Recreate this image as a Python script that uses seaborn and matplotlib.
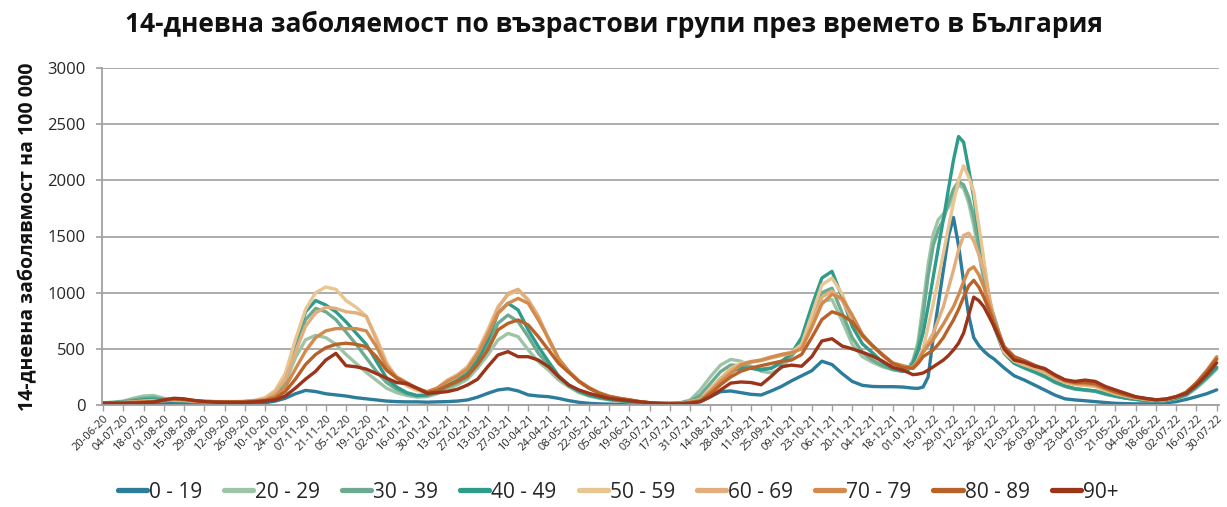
import pandas as pd
import matplotlib
matplotlib.use("Agg")
import matplotlib.pyplot as plt
import seaborn as sns

# --- data ---
# date grid: weekly, twice a week during the Omicron peak, weekly again after
DATES = (
    pd.date_range("2020-06-20", "2021-12-25", freq="7D")
    .append(pd.date_range("2021-12-28 12:00", "2022-02-26", freq="84h"))
    .append(pd.date_range("2022-03-05", "2022-07-30", freq="7D"))
)

GROUPS = ["0 - 19", "20 - 29", "30 - 39", "40 - 49", "50 - 59",
          "60 - 69", "70 - 79", "80 - 89", "90+"]

age_0_19 = [
    10, 10, 10, 10, 10, 10, 12, 18, 15, 10, 8, 8, 8, 8, 10, 12, 20,
    35, 60, 100, 130, 120, 100, 90, 80, 65, 55, 45, 35, 30, 28, 28,
    25, 28, 30, 35, 45, 70, 104, 134, 145, 125, 90, 80, 74, 59, 39, 24, 15, 10, 8, 6, 5, 5, 5, 5, 5, 6,
    20, 30, 74, 119, 125, 110, 95, 89, 125, 165, 215, 260, 305, 390, 360, 280, 210, 175, 165, 163, 163, 160,
    155, 150, 148, 160, 250, 600, 900, 1200, 1500, 1670, 1420, 1100, 800, 600, 530, 480, 440, 410,
    330, 260, 222, 178, 134, 89, 55, 45, 38, 30, 22, 15, 12, 10, 10, 15, 20, 30, 50, 74, 100, 135,
]
age_20_29 = [
    20, 25, 35, 60, 80, 85, 60, 45, 40, 35, 30, 28, 28, 28, 30, 35, 45,
    80, 200, 420, 580, 620, 600, 540, 450, 370, 290, 220, 150, 110, 85, 70,
    75, 100, 140, 180, 230, 330, 445, 578, 638, 608, 490, 386, 311, 222, 163, 110, 80, 60, 45, 35, 28, 22, 18, 15, 15, 20,
    45, 134, 252, 356, 406, 390, 345, 300, 285, 326, 430, 560, 780, 920, 940, 750, 540, 430, 380, 340, 315, 300,
    320, 400, 560, 900, 1250, 1520, 1650, 1700, 1760, 1860, 1960, 1930, 1800, 1600, 1350, 1100, 900, 780,
    500, 380, 330, 290, 250, 200, 165, 140, 130, 120, 95, 75, 60, 50, 40, 35, 40, 55, 85, 150, 230, 320,
]
age_30_39 = [
    20, 22, 30, 45, 60, 65, 50, 40, 35, 30, 28, 28, 28, 28, 30, 35, 42,
    80, 220, 500, 760, 860, 830, 760, 650, 540, 420, 300, 200, 140, 100, 80,
    85, 110, 160, 200, 250, 370, 519, 727, 801, 742, 608, 460, 356, 252, 170, 120, 85, 65, 50, 38, 30, 24, 18, 15, 15, 18,
    35, 89, 193, 297, 356, 350, 335, 320, 330, 370, 440, 540, 780, 1000, 1040, 820, 600, 470, 400, 350, 315, 300,
    320, 380, 520, 800, 1150, 1420, 1560, 1650, 1800, 1920, 1990, 1960, 1850, 1680, 1420, 1150, 940, 790,
    500, 380, 335, 300, 260, 210, 170, 145, 135, 125, 100, 80, 62, 50, 40, 35, 40, 58, 90, 160, 240, 330,
]
age_40_49 = [
    18, 20, 25, 35, 45, 50, 45, 40, 35, 30, 28, 28, 28, 28, 30, 35, 45,
    90, 250, 560, 830, 930, 890, 830, 740, 640, 540, 390, 240, 160, 110, 85,
    90, 120, 175, 220, 282, 400, 578, 816, 905, 846, 668, 519, 386, 260, 178, 125, 89, 68, 52, 40, 30, 24, 18, 15, 14, 15,
    30, 55, 134, 237, 297, 326, 326, 312, 326, 386, 460, 600, 880, 1130, 1190, 960, 700, 545, 465, 380, 325, 300,
    310, 370, 480, 640, 880, 1140, 1400, 1650, 1920, 2180, 2390, 2340, 2100, 1850, 1550, 1260, 950, 700,
    460, 370, 330, 295, 255, 205, 170, 145, 135, 125, 100, 80, 62, 50, 40, 35, 40, 60, 95, 165, 245, 335,
]
age_50_59 = [
    18, 20, 22, 28, 35, 40, 40, 42, 40, 35, 30, 28, 28, 28, 32, 42, 65,
    130, 280, 580, 850, 1000, 1050, 1030, 930, 870, 790, 600, 380, 240, 170, 130,
    110, 150, 222, 270, 341, 480, 668, 875, 979, 1020, 935, 786, 579, 400, 297, 208, 148, 104, 74, 59, 45, 30, 20, 15, 12, 12,
    30, 50, 148, 237, 326, 371, 386, 400, 430, 450, 470, 540, 800, 1070, 1130, 990, 760, 610, 525, 440, 370, 340,
    330, 330, 400, 500, 700, 900, 1120, 1350, 1580, 1800, 2000, 2130, 2030, 1900, 1600, 1290, 980, 720,
    470, 390, 355, 325, 290, 240, 200, 180, 175, 165, 130, 100, 80, 62, 50, 42, 48, 70, 110, 190, 290, 410,
]
age_60_69 = [
    20, 20, 22, 25, 30, 35, 40, 45, 42, 35, 32, 30, 30, 30, 32, 40, 55,
    110, 230, 470, 700, 820, 870, 860, 830, 820, 790, 580, 360, 240, 180, 140,
    115, 150, 215, 265, 335, 470, 650, 860, 994, 1030, 935, 790, 590, 410, 300, 210, 150, 105, 75, 59, 45, 30, 20, 15, 12, 12,
    28, 45, 130, 225, 310, 360, 380, 395, 420, 440, 460, 510, 720, 960, 1015, 930, 760, 610, 525, 440, 370, 345,
    335, 340, 400, 490, 560, 640, 760, 875, 1040, 1200, 1380, 1510, 1530, 1460, 1340, 1200, 980, 760,
    490, 400, 360, 330, 295, 245, 205, 185, 180, 170, 135, 105, 82, 64, 52, 44, 50, 72, 112, 195, 300, 420,
]
age_70_79 = [
    20, 20, 20, 22, 25, 30, 40, 50, 45, 38, 32, 30, 30, 30, 30, 35, 45,
    80, 160, 320, 480, 600, 660, 680, 680, 680, 660, 520, 340, 250, 200, 150,
    119, 150, 208, 255, 320, 450, 623, 816, 905, 949, 905, 757, 593, 415, 300, 215, 155, 110, 78, 60, 45, 30, 20, 15, 12, 12,
    25, 40, 119, 208, 282, 356, 386, 400, 425, 450, 465, 500, 690, 900, 985, 950, 800, 630, 525, 450, 375, 350,
    340, 340, 390, 470, 530, 580, 650, 720, 800, 875, 980, 1100, 1200, 1230, 1160, 1050, 900, 760,
    520, 430, 390, 350, 315, 260, 215, 195, 190, 180, 145, 112, 88, 68, 55, 46, 52, 75, 115, 200, 305, 430,
]
age_80_89 = [
    20, 20, 20, 22, 25, 30, 45, 55, 50, 40, 32, 30, 28, 28, 28, 32, 40,
    60, 120, 230, 360, 450, 510, 540, 550, 540, 520, 430, 310, 240, 190, 150,
    110, 130, 170, 210, 260, 360, 490, 668, 727, 757, 712, 608, 490, 371, 290, 210, 150, 105, 75, 58, 44, 30, 20, 14, 12, 12,
    22, 35, 100, 180, 250, 300, 330, 350, 370, 390, 400, 450, 600, 760, 830, 800, 740, 620, 530, 445, 370, 335,
    330, 326, 370, 430, 460, 490, 540, 600, 680, 757, 850, 960, 1060, 1110, 1050, 960, 850, 730,
    520, 430, 395, 355, 320, 265, 220, 200, 200, 190, 150, 118, 92, 70, 57, 47, 52, 74, 112, 195, 295, 410,
]
age_90_plus = [
    15, 15, 15, 18, 20, 25, 45, 60, 55, 40, 30, 25, 22, 22, 22, 28, 35,
    45, 80, 150, 230, 300, 400, 460, 350, 340, 320, 280, 240, 200, 190, 150,
    104, 110, 119, 140, 178, 230, 341, 445, 475, 430, 430, 400, 341, 252, 178, 134, 104, 80, 59, 48, 38, 28, 20, 14, 10, 10,
    15, 30, 74, 134, 195, 205, 200, 180, 255, 340, 355, 345, 430, 570, 590, 525, 500, 470, 435, 390, 335, 310,
    290, 270, 275, 285, 310, 340, 370, 400, 440, 490, 550, 640, 800, 960, 930, 875, 790, 700,
    500, 400, 380, 345, 325, 270, 225, 210, 222, 210, 165, 134, 104, 74, 59, 45, 53, 74, 104, 178, 267, 375,
]

COLORS = ["#2c7c9b", "#9dc4a6", "#6dab90", "#2e9b8b", "#e9c592",
          "#e2ae7e", "#d38a4d", "#b8622a", "#9b3419"]

TITLE = "14-дневна заболяемост по възрастови групи през времето в България"
YLABEL = "14-дневна заболявмост на 100 000"


def build_frame():
    series = [age_0_19, age_20_29, age_30_39, age_40_49, age_50_59,
              age_60_69, age_70_79, age_80_89, age_90_plus]
    wide = pd.DataFrame(dict(zip(GROUPS, series)), index=DATES)
    wide.index.name = "date"
    return wide.reset_index().melt(id_vars="date", var_name="group", value_name="value")


def plot_incidence(df):
    sns.set_style("white")
    plt.rcParams["font.family"] = ["Open Sans", "DejaVu Sans"]

    fig = plt.figure(figsize=(12.27, 5.07), dpi=100)
    ax = fig.add_axes([102 / 1227, 1 - 405 / 507, 1117 / 1227, 337 / 507])

    sns.lineplot(data=df, x="date", y="value", hue="group", hue_order=GROUPS,
                 palette=dict(zip(GROUPS, COLORS)), linewidth=2.4, ax=ax)

    ax.set_ylim(0, 3000)
    ax.set_yticks(range(0, 3001, 500))
    ax.set_xlim(pd.Timestamp("2020-06-20") - pd.Timedelta(hours=17),
                pd.Timestamp("2022-07-30") + pd.Timedelta(hours=38))
    ticks = pd.date_range("2020-06-20", "2022-07-30", freq="14D")
    ax.set_xticks(ticks)
    ax.set_xticklabels([t.strftime("%d-%m-%y") for t in ticks], rotation=45,
                       ha="right", rotation_mode="anchor", fontsize=8)
    ax.tick_params(axis="y", labelsize=12, colors="#a0a0a0", labelcolor="#262626",
                   length=4, width=1.2, direction="out", left=True, pad=8)
    ax.tick_params(axis="x", colors="#a0a0a0", labelcolor="#262626",
                   length=4, width=1.0, direction="out", bottom=True, pad=2)

    ax.yaxis.grid(True, color="#a6a6a6", linewidth=1.3)
    ax.set_axisbelow(True)
    for side in ["top", "right"]:
        ax.spines[side].set_visible(False)
    for side in ["left", "bottom"]:
        ax.spines[side].set_color("#a0a0a0")
        ax.spines[side].set_linewidth(1.3)

    ax.set_xlabel("")
    ax.set_ylabel(YLABEL, fontsize=14, fontweight="bold", color="#111111", labelpad=6)
    fig.suptitle(TITLE, fontsize=19, fontweight="bold", x=0.5, y=0.978, color="#111111")

    handles, labels = ax.get_legend_handles_labels()
    ax.get_legend().remove()
    leg = fig.legend(handles, labels, loc="center", bbox_to_anchor=(618 / 1227, 1 - 492 / 507),
                     ncol=9, frameon=False, fontsize=15, handlelength=1.4,
                     handletextpad=0.1, columnspacing=1.05)
    for line in leg.get_lines():
        line.set_linewidth(3.8)

    fig.savefig("out.png", dpi=100)


if __name__ == "__main__":
    df = build_frame()
    plot_incidence(df)
